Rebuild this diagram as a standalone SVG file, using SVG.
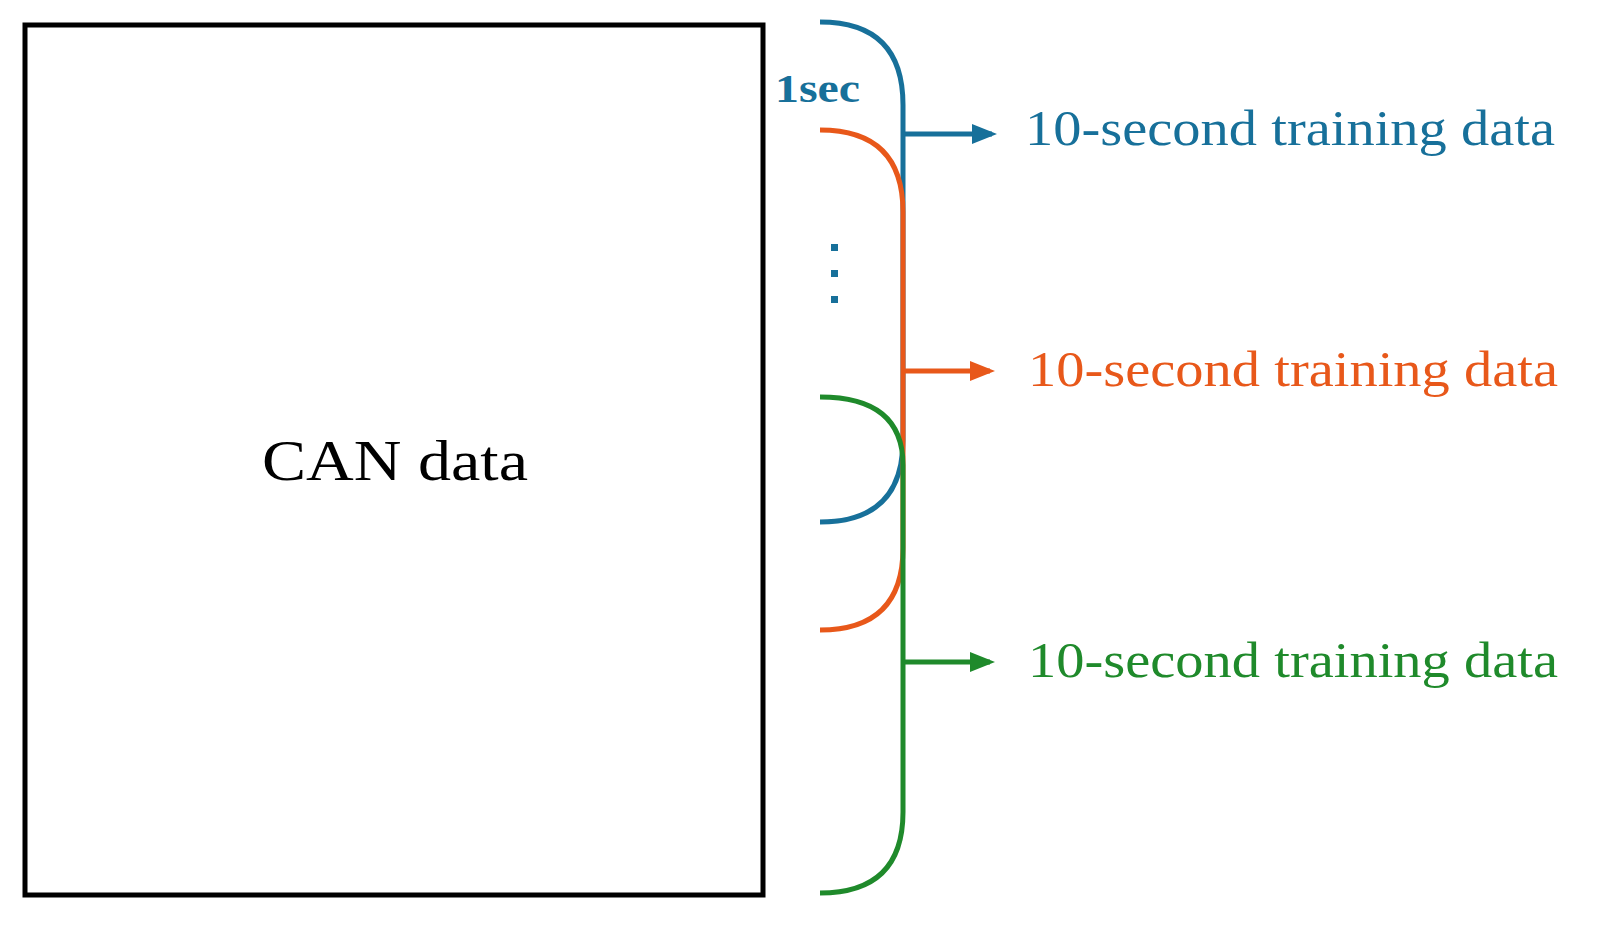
<svg xmlns="http://www.w3.org/2000/svg" width="1612" height="950" viewBox="0 0 1612 950">
<style>
.b{stroke:#17709a}.o{stroke:#e8581a}.g{stroke:#1f8a2b}
.br{fill:none;stroke-width:5}
.lbl{font-family:"Liberation Serif",serif;font-size:50px}
</style>
<defs>
<marker id="mb" markerWidth="5" markerHeight="4" refX="4" refY="2" orient="auto" markerUnits="strokeWidth"><path d="M0,0L5,2L0,4z" fill="#17709a"/></marker>
<marker id="mo" markerWidth="5" markerHeight="4" refX="4" refY="2" orient="auto" markerUnits="strokeWidth"><path d="M0,0L5,2L0,4z" fill="#e8581a"/></marker>
<marker id="mg" markerWidth="5" markerHeight="4" refX="4" refY="2" orient="auto" markerUnits="strokeWidth"><path d="M0,0L5,2L0,4z" fill="#1f8a2b"/></marker>
</defs>
<rect width="1612" height="950" fill="#fff"/>
<g id="can">
<rect x="25" y="25" width="738" height="870" fill="none" stroke="#000" stroke-width="5"/>
<text x="262" y="480" textLength="266" lengthAdjust="spacingAndGlyphs" font-family="Liberation Serif,serif" font-size="56">CAN data</text>
</g>
<g id="connectors">
<path class="br b" d="M820,22 Q903,22 903,105 L903,440 Q903,522 820,522"/>
<path class="br o" d="M820,130 Q903,130 903,212 L903,548 Q903,630 820,630"/>
<path class="br g" d="M820,397 Q903,397 903,465 L903,812 Q903,893 820,893"/>
<line class="b" x1="903" y1="134" x2="992" y2="134" stroke-width="5" marker-end="url(#mb)"/>
<line class="o" x1="903" y1="371" x2="990" y2="371" stroke-width="5" marker-end="url(#mo)"/>
<line class="g" x1="903" y1="662" x2="990" y2="662" stroke-width="5" marker-end="url(#mg)"/>
</g>
<g id="sec">
<text x="775" y="102" textLength="85" lengthAdjust="spacingAndGlyphs" font-family="Liberation Serif,serif" font-weight="bold" font-size="40" fill="#17709a">1sec</text>
<g fill="#17709a"><rect x="831" y="244" width="7" height="7"/><rect x="831" y="270" width="7" height="7"/><rect x="831" y="296" width="7" height="7"/></g>
</g>
<g id="t1"><text class="lbl" x="1025" y="145" textLength="530" lengthAdjust="spacingAndGlyphs" fill="#17709a">10-second training data</text></g>
<g id="t2"><text class="lbl" x="1028" y="386" textLength="530" lengthAdjust="spacingAndGlyphs" fill="#e8581a">10-second training data</text></g>
<g id="t3"><text class="lbl" x="1028" y="677" textLength="530" lengthAdjust="spacingAndGlyphs" fill="#1f8a2b">10-second training data</text></g>
</svg>
